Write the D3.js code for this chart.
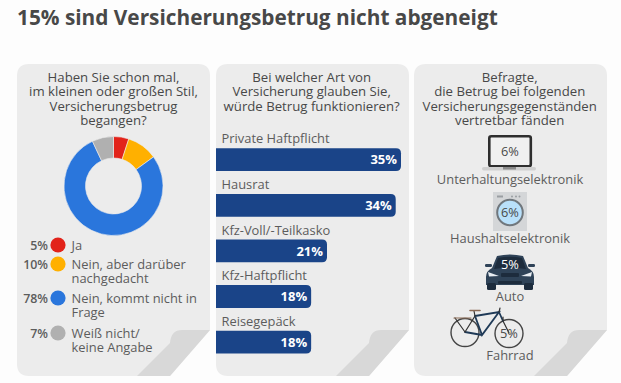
<!DOCTYPE html>
<html>
<head>
<meta charset="utf-8">
<script src="https://cdn.jsdelivr.net/npm/d3@7"></script>
<style>
  html, body { margin: 0; padding: 0; background: #fdfdfd; }
  svg { display: block; }
  text { font-family: "Open Sans", sans-serif; fill: #5c5c5c; }
</style>
</head>
<body>
<div class="main"></div>
<script>
////Data
const title = '15% sind Versicherungsbetrug nicht abgeneigt';

const donutLabels = ['Ja', 'Nein, aber darüber|nachgedacht', 'Nein, kommt nicht in|Frage', 'Weiß nicht/|keine Angabe'];
const donutValues = [5, 10, 78, 7];
const donutColors = ['#e2231a', '#ffb000', '#2a76dc', '#b0b0b0'];

const barCategories = ['Private Haftpflicht', 'Hausrat', 'Kfz-Voll/-Teilkasko', 'Kfz-Haftpflicht', 'Reisegepäck'];
const barValues = [35, 34, 21, 18, 18];

const itemLabels = ['Unterhaltungselektronik', 'Haushaltselektronik', 'Auto', 'Fahrrad'];
const itemValues = [6, 6, 5, 5];

const questions = [
  ['Haben Sie schon mal,', 'im kleinen oder großen Stil,', 'Versicherungsbetrug', 'begangen?'],
  ['Bei welcher Art von', 'Versicherung glauben Sie,', 'würde Betrug funktionieren?'],
  ['Befragte,', 'die Betrug bei folgenden', 'Versicherungsgegenständen', 'vertretbar fänden']
];

////Layout
const width = 621;
const height = 383;
const panelX = [17, 216, 414];
const panelW = 193;
const panelTop = 64;
const panelBottom = 376;

const svg = d3.select('.main').append('svg')
  .attr('width', width)
  .attr('height', height);

svg.append('text')
  .attr('x', 17).attr('y', 25)
  .attr('font-size', 20.8)
  .attr('font-weight', 700)
  .style('fill', '#484848')
  .text(title);

// panels with the folded corner
panelX.forEach(x => {
  const r = x + panelW, b = panelBottom;
  svg.append('path')
    .attr('fill', '#ececec')
    .attr('d', `M${x + 12},${panelTop} H${r - 12} Q${r},${panelTop} ${r},${panelTop + 12}
      V${b - 46} L${r - 40},${b} H${x + 12} Q${x},${b} ${x},${b - 12} V${panelTop + 12} Q${x},${panelTop} ${x + 12},${panelTop} Z`);
  svg.append('path')
    .attr('fill', '#d8d8d8')
    .attr('d', `M${r - 40},${b} H${r - 73} L${r - 40},${b - 33} Q${r - 39},${b - 46} ${r - 28},${b - 46} H${r} Z`);
});

// panel headings
questions.forEach((lines, i) => {
  svg.append('text')
    .attr('text-anchor', 'middle')
    .attr('font-size', 13.2)
    .style('fill', '#484848')
    .selectAll('tspan')
    .data(lines)
    .join('tspan')
    .attr('x', panelX[i] + panelW / 2 + (i === 0 ? 0 : -0.8))
    .attr('y', (d, j) => 82 + j * 14.4)
    .text(d => d);
});

////Donut
const pie = d3.pie().sort(null)(donutValues);
const arc = d3.arc().innerRadius(28).outerRadius(49.5);
svg.append('g')
  .attr('transform', 'translate(113.5, 186)')
  .selectAll('path')
  .data(pie)
  .join('path')
  .attr('d', arc)
  .attr('fill', (d, i) => donutColors[i])
  .attr('stroke', '#ececec')
  .attr('stroke-width', 0.6);

const legendY = [245, 264, 298, 333];
const legend = svg.append('g').selectAll('g')
  .data(donutLabels)
  .join('g')
  .attr('transform', (d, i) => `translate(58, ${legendY[i]})`);

legend.append('circle')
  .attr('r', 7.6)
  .attr('fill', (d, i) => donutColors[i]);

legend.append('text')
  .attr('x', -10).attr('y', 5)
  .attr('text-anchor', 'end')
  .attr('font-size', 12.4)
  .attr('font-weight', 600)
  .text((d, i) => donutValues[i] + '%');

legend.append('text')
  .attr('font-size', 12.9)
  .selectAll('tspan')
  .data(d => d.split('|'))
  .join('tspan')
  .attr('x', 13.5)
  .attr('y', (d, j) => 5 + j * 14.3)
  .text(d => d);

////Bars
const barH = 22.8;
const xScale = d3.scaleLinear().domain([0, 35]).range([216, 401]);
const yScale = d3.scalePoint().domain(barCategories).range([148.3, 330.7]);

const rows = svg.append('g').selectAll('g')
  .data(barCategories)
  .join('g');

rows.append('path')
  .attr('fill', '#1a4488')
  .attr('d', (c, i) => {
    const x0 = xScale(0), x1 = xScale(barValues[i]), y = yScale(c);
    return `M${x0},${y} H${x1 - 5} Q${x1},${y} ${x1},${y + 5} V${y + barH - 5} Q${x1},${y + barH} ${x1 - 5},${y + barH} H${x0} Z`;
  });

rows.append('text')
  .attr('x', (c, i) => xScale(barValues[i]) - 4)
  .attr('y', c => yScale(c) + 16)
  .attr('text-anchor', 'end')
  .attr('font-size', 13)
  .attr('font-weight', 700)
  .style('fill', '#fff')
  .text((c, i) => barValues[i] + '%');

rows.append('text')
  .attr('x', 221.5)
  .attr('y', c => yScale(c) - 5)
  .attr('font-size', 12.9)
  .text(c => c);

////Items on the right
const itemCx = [510, 510, 510, 510];
const itemLabelY = [184, 242.5, 301, 359.5];
svg.append('g').selectAll('text')
  .data(itemLabels)
  .join('text')
  .attr('x', (d, i) => itemCx[i])
  .attr('y', (d, i) => itemLabelY[i])
  .attr('text-anchor', 'middle')
  .attr('font-size', 12.9)
  .text(d => d);

// laptop
const laptop = svg.append('g');
laptop.append('rect').attr('x', 489.3).attr('y', 136.3).attr('width', 41.5).attr('height', 30).attr('rx', 2)
  .attr('fill', '#f0f0f0').attr('stroke', '#2e2e2e').attr('stroke-width', 2.6);
laptop.append('rect').attr('x', 482).attr('y', 167).attr('width', 54).attr('height', 3.5).attr('rx', 1.7).attr('fill', '#cfcfcf');
laptop.append('rect').attr('x', 503).attr('y', 167).attr('width', 13).attr('height', 2.5).attr('fill', '#8a8a8a');

// washing machine
const washer = svg.append('g');
washer.append('rect').attr('x', 493).attr('y', 192).attr('width', 34).attr('height', 39).attr('fill', '#d4d6d8');
washer.append('rect').attr('x', 497).attr('y', 195.5).attr('width', 6).attr('height', 2).attr('fill', '#9a9ea2');
washer.selectAll('.knob').data([512, 516, 519.5]).join('circle').attr('class', 'knob')
  .attr('cx', d => d).attr('cy', 196.5).attr('r', 1).attr('fill', '#9a9ea2');
washer.append('circle').attr('cx', 510).attr('cy', 212.5).attr('r', 12.8)
  .attr('fill', '#b9e0fa').attr('stroke', '#70777d').attr('stroke-width', 2);

// car
const car = svg.append('g');
car.append('path').attr('fill', '#2f4358')
  .attr('d', 'M497,256 Q510,253 523,256 L528,268 Q534,271 534,277 V285 H486 V277 Q486,271 492,268 Z');
car.append('rect').attr('x', 487).attr('y', 283).attr('width', 9).attr('height', 7).attr('rx', 1.5).attr('fill', '#1d2c3d');
car.append('rect').attr('x', 524).attr('y', 283).attr('width', 9).attr('height', 7).attr('rx', 1.5).attr('fill', '#1d2c3d');
car.append('path').attr('fill', '#1d2c3d')
  .attr('d', 'M498,258 Q510,255.5 522,258 L526,269 Q510,266 494,269 Z');
car.append('path').attr('fill', '#e8edf2').attr('d', 'M488,272 L499,276 L489,276.5 Z M532,272 L521,276 L531,276.5 Z');
car.append('rect').attr('x', 501).attr('y', 273).attr('width', 18).attr('height', 4).attr('rx', 1).attr('fill', '#1d2c3d');
car.append('rect').attr('x', 498).attr('y', 281).attr('width', 24).attr('height', 3).attr('rx', 1).attr('fill', '#1d2c3d');
car.append('rect').attr('x', 485).attr('y', 264).attr('width', 7).attr('height', 3).attr('rx', 1.2).attr('fill', '#2f4358');
car.append('rect').attr('x', 528).attr('y', 264).attr('width', 7).attr('height', 3).attr('rx', 1.2).attr('fill', '#2f4358');

// bicycle
const bike = svg.append('g').attr('fill', 'none').attr('stroke-linecap', 'round');
bike.append('circle').attr('cx', 465).attr('cy', 332.5).attr('r', 14).attr('stroke', '#444').attr('stroke-width', 1.4);
bike.append('circle').attr('cx', 509).attr('cy', 333.5).attr('r', 14).attr('stroke', '#444').attr('stroke-width', 1.4);
bike.append('path').attr('stroke', '#1f3a57').attr('stroke-width', 1.8)
  .attr('d', 'M475,316 L499,312 L482,335 L475,316 M499,312 L503,321 M482,335 L465,332');
bike.append('path').attr('stroke', '#333').attr('stroke-width', 1.2)
  .attr('d', 'M499,312 L500,308 M503,321 L509,333 M503,321 L503,317 M465,332 L455,318 M465,332 L475,316 M475,316 L474,311');
bike.append('path').attr('stroke', '#8a6a55').attr('stroke-width', 1.6).attr('d', 'M470,310.5 H480');
bike.append('path').attr('stroke', '#8a6a55').attr('stroke-width', 1.2).attr('d', 'M454,318 H471');

// percent values on the icons
const itemValueX = [510, 510, 510, 509];
const itemValueY = [155.5, 217, 269, 338];
const itemValueFill = ['#4a4a4a', '#4a4a4a', '#ffffff', '#4a4a4a'];
svg.append('g').selectAll('text')
  .data(itemValues)
  .join('text')
  .attr('x', (d, i) => itemValueX[i])
  .attr('y', (d, i) => itemValueY[i])
  .attr('text-anchor', 'middle')
  .attr('font-size', 12.8)
  .style('fill', (d, i) => itemValueFill[i])
  .text(d => d + '%');
</script>
</body>
</html>
